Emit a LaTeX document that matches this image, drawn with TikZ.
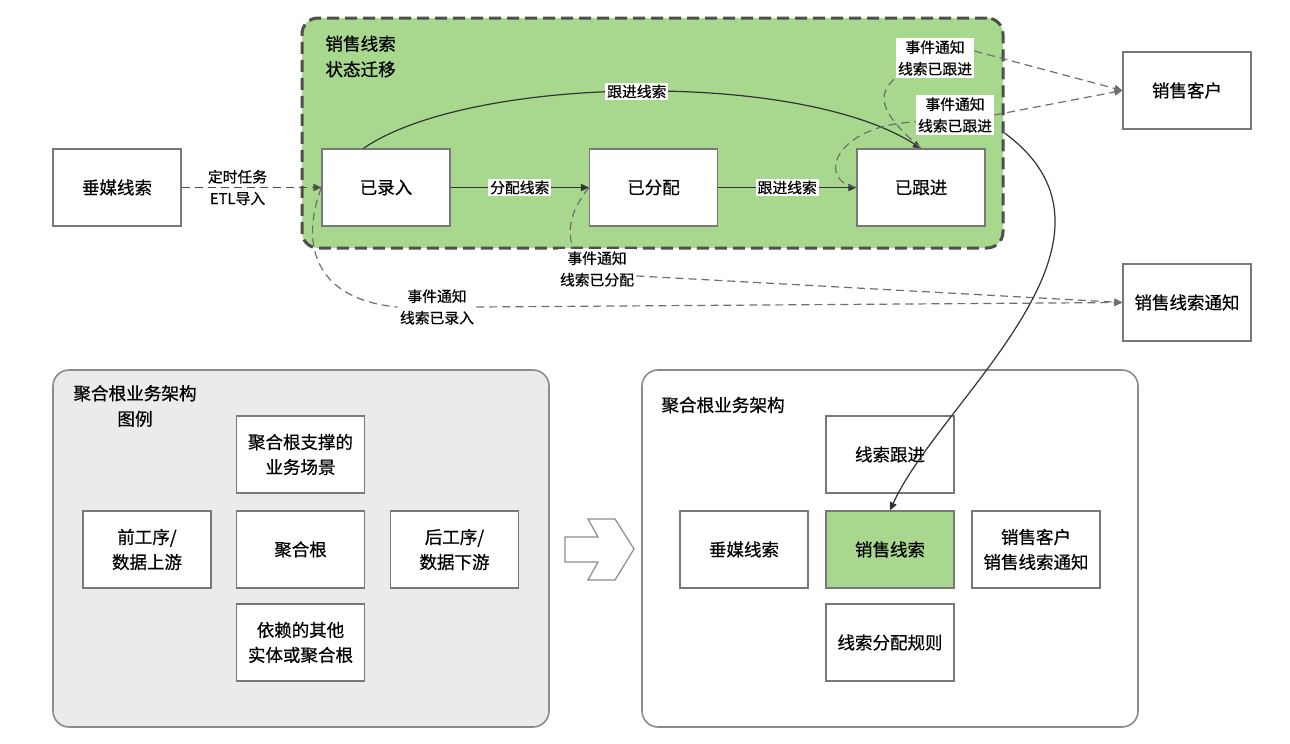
\documentclass[tikz,border=0pt]{standalone}
\usepackage{fontspec}
\usepackage{tikz}
\usetikzlibrary{shapes,arrows.meta,backgrounds}
\newfontfamily\cjk{Noto Sans CJK SC}[FakeBold=0.5]
\definecolor{leadgreen}{RGB}{168,216,142}
\definecolor{legendgray}{RGB}{235,235,235}
\definecolor{framegray}{RGB}{78,78,78}
\definecolor{boxgray}{RGB}{120,120,120}
\definecolor{linegray}{RGB}{110,110,110}
\tikzset{
  boxA/.style={ draw=boxgray, fill=white, line width=0.6pt, minimum width=64pt, minimum height=38.5pt,
    align=center, font=\cjk\fontsize{8.75}{12.5}\selectfont }
}
\tikzset{
  boxG/.style={ boxA, fill=leadgreen }
}
\tikzset{
  titleA/.style={ inner sep=0pt, font=\cjk\fontsize{8.8}{12.8}\selectfont }
}
\tikzset{
  lbl/.style={ font=\cjk\fontsize{7.4}{10.8}\selectfont, align=center, fill=white, inner sep=1pt }
}
\tikzset{
  smframe/.style={ draw=framegray, fill=leadgreen, line width=1.5pt, dash pattern=on 6pt off 3pt,
    rounded corners=8pt, minimum width=350.5pt, minimum height=115pt }
}
\tikzset{
  lgframe/.style={ draw=black!45, line width=0.8pt, rounded corners=8pt, minimum width=248pt, minimum height=178.5pt }
}
\tikzset{
  flow/.style={ draw=black!80, line width=0.6pt, -{Triangle[length=4pt,width=3.6pt]} }
}
\tikzset{
  evt/.style={ draw=linegray, line width=0.6pt, dash pattern=on 4pt off 2.5pt }
}
\tikzset{
  evtarrow/.style={ evt, -{Triangle[length=4pt,width=3.6pt]} }
}

\begin{document}
\begin{tikzpicture}[x=0.5pt,y=-0.5pt]
  \useasboundingbox (0,0) rectangle (1290,744);

  % state machine
  \node[smframe] (sm) at (652.5,133) {};
  \node[titleA, anchor=west, align=left] (smtitle) at (325,56.5) {销售线索\\状态迁移};

  \node[boxA] (cm) at (117,187.5) {垂媒线索};
  \node[boxA] (lr) at (386,187.5) {已录入};
  \node[boxA] (fp) at (653.5,187.5) {已分配};
  \node[boxA] (gj) at (921,187.5) {已跟进};

  \node[boxA] (kh) at (1187,90.5) {销售客户};
  \node[boxA] (tz) at (1187,302.5) {销售线索通知};

  \node[lbl] (evlr) at (437,307) {事件通知\\线索已录入};
  \node[lbl] (evfp) at (597,269) {事件通知\\线索已分配};
  \node[lbl] (evgj1) at (935,58) {事件通知\\线索已跟进};
  \node[lbl] (evgj2) at (955,115) {事件通知\\线索已跟进};

  \draw[evtarrow, draw=framegray] (cm) -- node[lbl, fill=none, pos=0.4] {定时任务\\ETL导入} (lr);

  \begin{scope}[flow]
    \draw (lr) -- node[lbl] {分配线索} (fp);
    \draw (fp) -- node[lbl] {跟进线索} (gj);
    \draw (lr.120) .. controls (470,75) and (800,70) .. node[lbl] {跟进线索} (gj.north);
  \end{scope}

  \draw[evt] (lr.west) .. controls (298,250) and (320,300) .. (evlr.west);
  \draw[evtarrow] (evlr.east) -- (tz.west);
  \draw[evt] (fp.west) .. controls (575,205) and (565,225) .. (evfp.140);
  \draw[evtarrow] (evfp.-10) -- (tz.west);
  \draw[evt] (gj.north) .. controls (895,125) and (868,100) .. (evgj1.south west);
  \draw[evtarrow] (evgj1.10) -- (kh.west);
  \draw[evt] (gj.west) .. controls (815,180) and (835,125) .. (evgj2.190);
  \draw[evtarrow] (evgj2.east) -- (kh.west);

  % legend
  \node[lgframe, fill=legendgray] (lg) at (301,548.5) {};
  \node[titleA, align=center] (lgtitle) at (135,406) {聚合根业务架构\\图例};
  \node[boxA] (lgtop) at (300.5,454.5) {聚合根支撑的\\业务场景};
  \node[boxA] (lgleft) at (147,549.5) {前工序/\\数据上游};
  \node[boxA] (lgmid) at (300.5,549.5) {聚合根};
  \node[boxA] (lgright) at (454.5,549.5) {后工序/\\数据下游};
  \node[boxA] (lgbot) at (300.5,642.5) {依赖的其他\\实体或聚合根};

  \draw[draw=black!45, fill=white, line width=0.6pt] (565,537) -- (598,537) -- (588,519) -- (615,519)
    -- (634,549) -- (615,580) -- (588,580) -- (598,562) -- (565,562) -- cycle;

  % aggregate root
  \node[lgframe, fill=white] (ar) at (890,548.5) {};
  \node[titleA, anchor=west] (artitle) at (661,405) {聚合根业务架构};
  \node[boxA] (artop) at (890,454.5) {线索跟进};
  \node[boxA] (arleft) at (744,549.5) {垂媒线索};
  \node[boxG] (armid) at (890,549.5) {销售线索};
  \node[boxA] (arright) at (1036,549.5) {销售客户\\销售线索通知};
  \node[boxA] (arbot) at (890,642.5) {线索分配规则};

  \draw[flow] (sm.east) .. controls (1150,240) and (940,400) .. (armid.north);
\end{tikzpicture}
\end{document}
